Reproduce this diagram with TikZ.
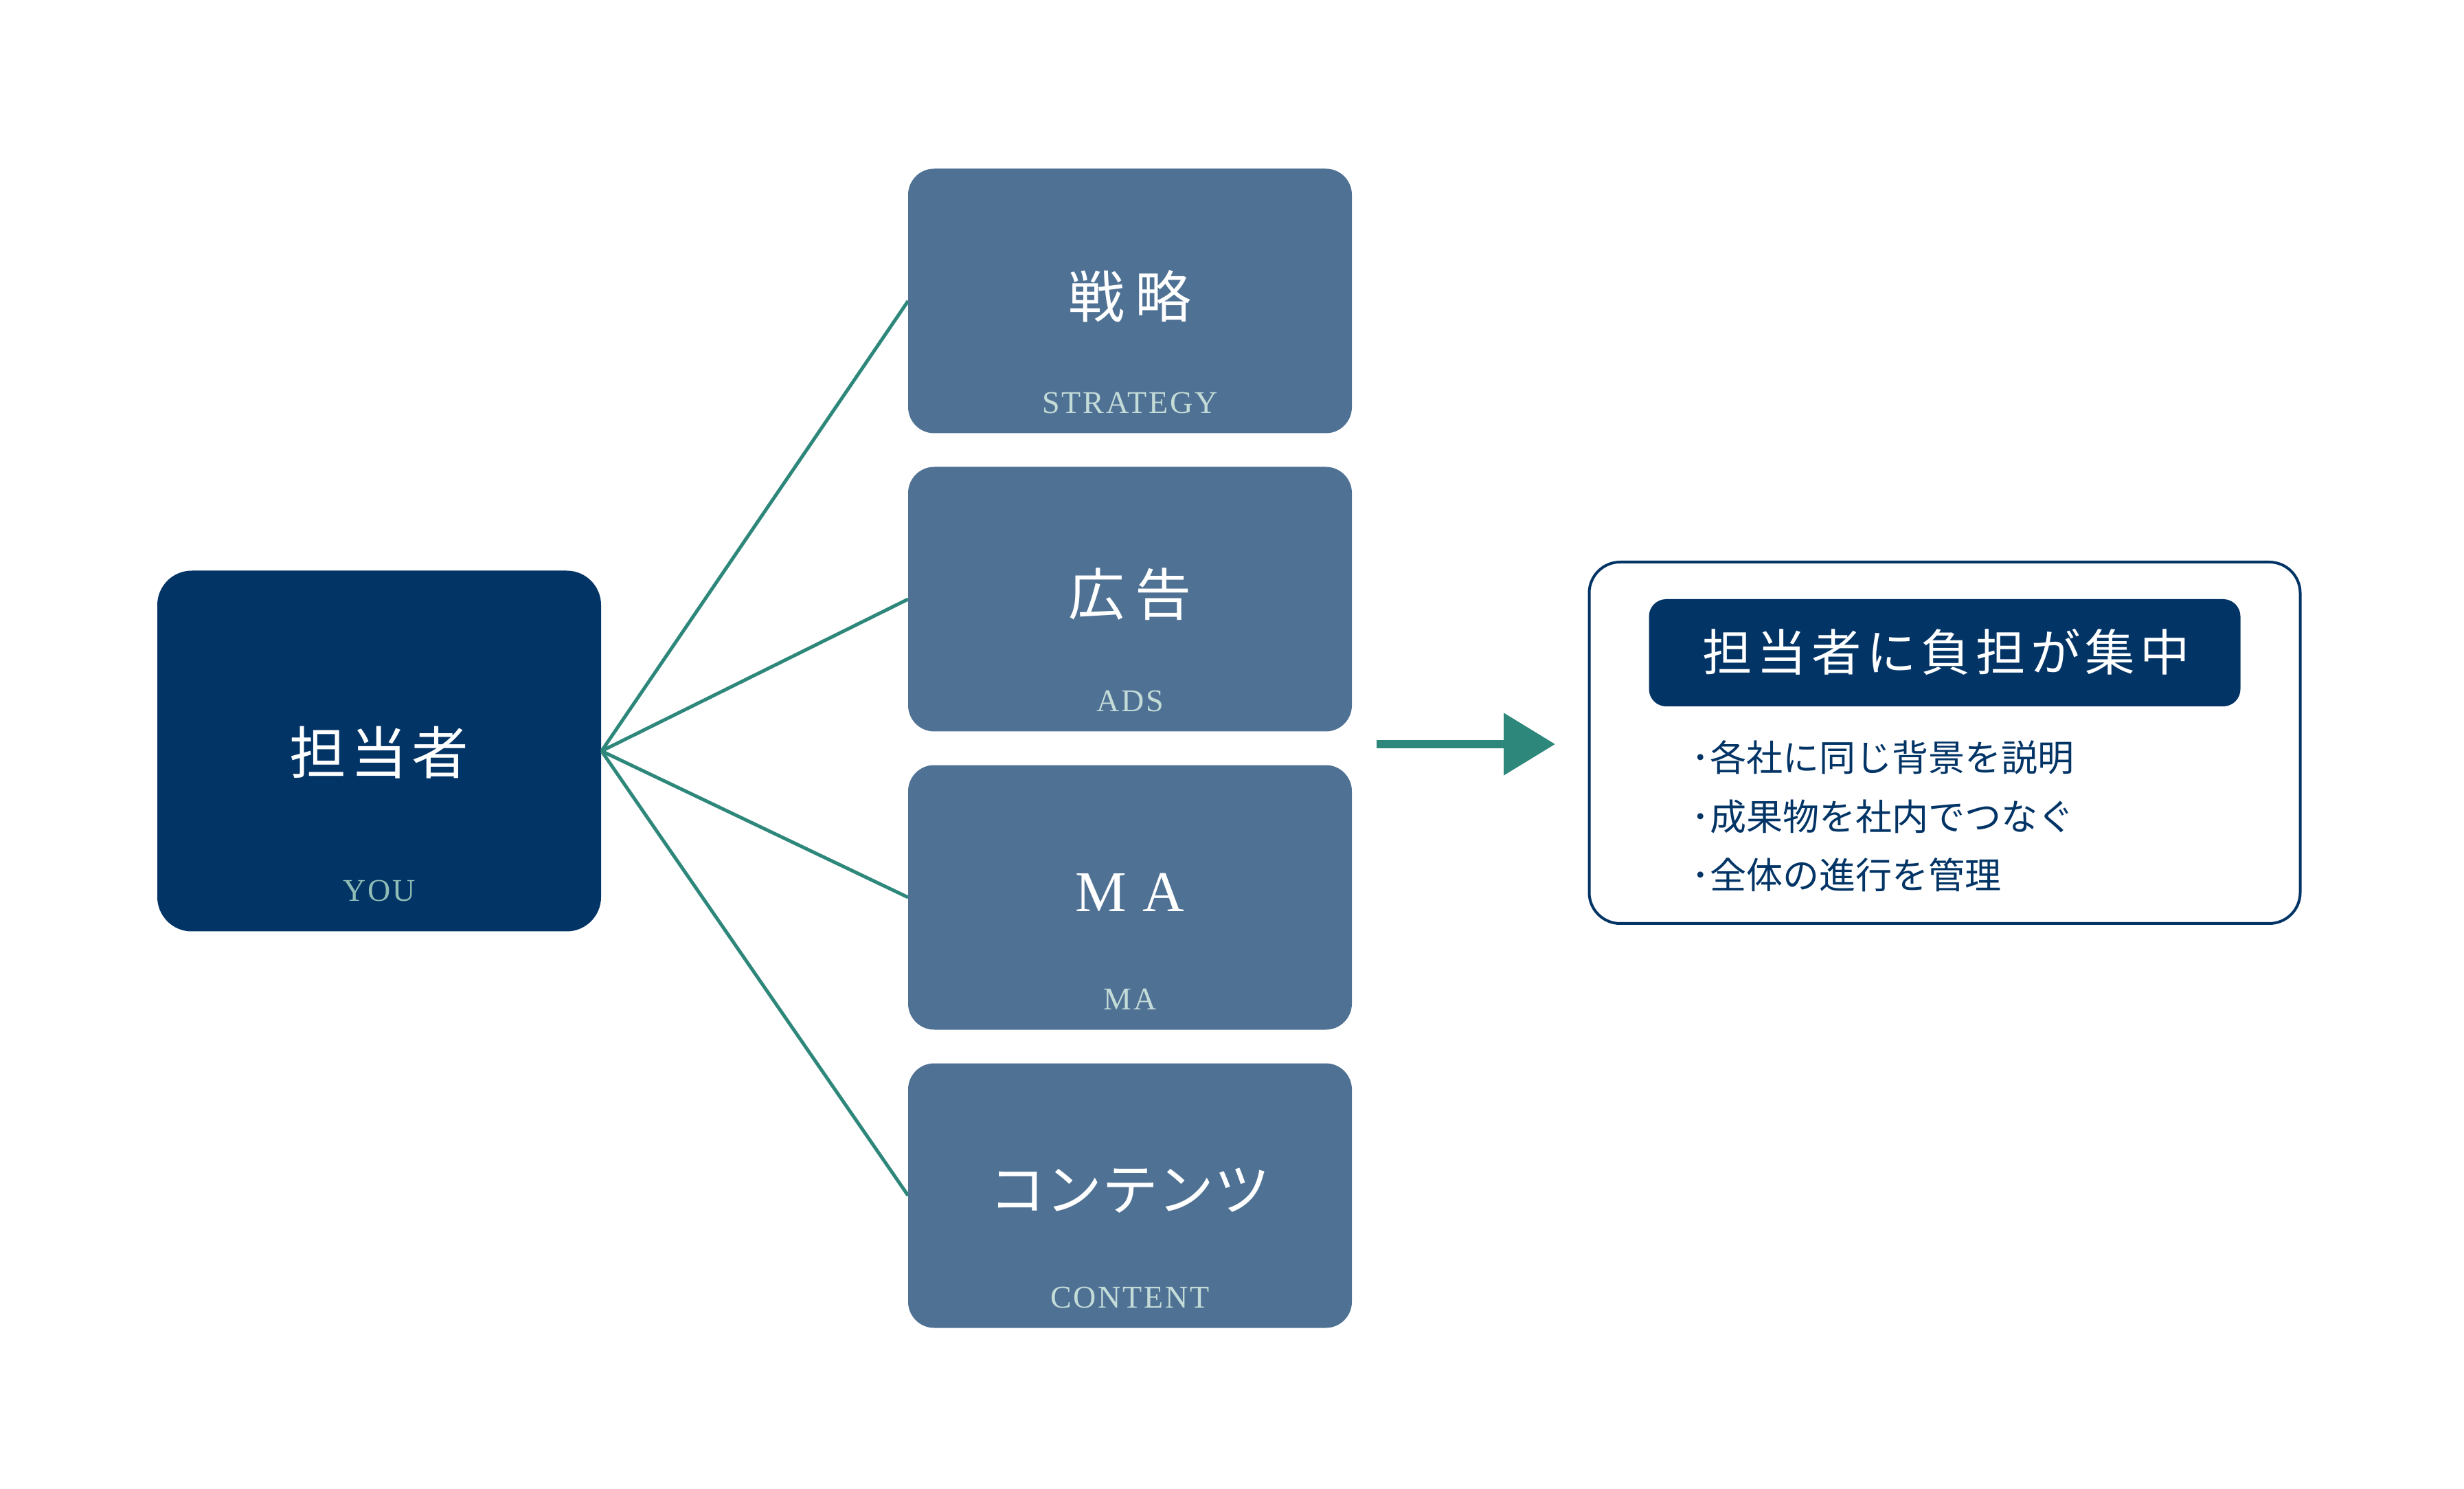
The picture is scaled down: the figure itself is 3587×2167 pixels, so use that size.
\documentclass[tikz,border=0pt]{standalone}
\usepackage{fontspec}
\usepackage{xcolor}
\usepackage{tikz}
\usetikzlibrary{arrows.meta}
\setmainfont{Liberation Serif}
\newfontfamily\jp{Noto Sans CJK JP}
\newfontfamily\jpwide[LetterSpace=18]{Noto Sans CJK JP}
\newfontfamily\jpmid[LetterSpace=8]{Noto Sans CJK JP}
\newfontfamily\jphead[LetterSpace=10]{Noto Sans CJK JP}
\newfontfamily\subserif[LetterSpace=6]{Liberation Serif}

\definecolor{navy}{HTML}{033466}
\definecolor{midblue}{HTML}{4F7194}
\definecolor{teal}{HTML}{2D877A}
\definecolor{subtxt}{HTML}{C4DCD8}
\definecolor{youtxt}{HTML}{8FBDB5}

\begin{document}
\begin{tikzpicture}[x=0.1mm, y=-0.1mm,
  youbox/.style={fill=navy, rounded corners=5mm, minimum width=64.6mm, minimum height=52.5mm, inner sep=0},
  midbox/.style={fill=midblue, rounded corners=3.8mm, minimum width=64.6mm, minimum height=38.5mm, inner sep=0},
  titletxt/.style={text=white, inner sep=0, font=\fontsize{23.3}{28}\selectfont},
  subtitle/.style={text=subtxt, inner sep=0, font=\subserif\fontsize{13.1}{16}\selectfont},
  link/.style={teal, line width=0.5mm},
  flow/.style={teal, line width=1.2mm, -{Triangle[length=7.5mm, width=8.8mm]}},
  bullet/.style={text=navy, inner sep=0, anchor=west, font=\jp\fontsize{15.1}{18}\selectfont}]
 \path[use as bounding box, fill=white] (0,0) rectangle (3587,2167);
 % the one person in charge
 \node[youbox] (you) at (552,1093) {};
 \node[titletxt, font=\jpmid\fontsize{23.5}{28}\selectfont] (you-t) at (552,1095) {担当者};
 \node[subtitle, text=youtxt] (you-s) at (552,1296) {YOU};
 % the four fields
 \foreach \n/\y/\t/\s in {str/438/{\jpwide 戦略}/STRATEGY, ads/872/{\jpwide 広告}/ADS,
   ma/1306/{\rmfamily\fontsize{23.9}{28}\selectfont M\kern.28em A}/MA, cnt/1740/{\jp コンテンツ}/CONTENT} {
   \draw[link] (you.east) -- (1322,\y);
   \node[midbox] (\n) at (1645,\y) {};
   \node[titletxt] (\n-t) at (1645,\y-7) {\t};
   \node[subtitle] (\n-s) at (1645,\y+148) {\s};
 }
 % arrow to the result
 \coordinate (a1) at (2004,1083);
 \coordinate (a2) at (2264,1083);
 \draw[flow] (a1) -- (a2);
 \node[draw=navy, line width=0.4mm, rounded corners=4.5mm, minimum width=103.5mm, minimum height=52.6mm] (rbox) at (2831,1081) {};
 \node[fill=navy, rounded corners=2.5mm, minimum width=86.1mm, minimum height=15.6mm, inner sep=0] (head) at (2831,950) {};
 \node[text=white, inner sep=0, font=\jphead\fontsize{20.6}{24}\selectfont] (head-t) at (2833,949) {担当者に負担が集中};
 \foreach \i/\y/\t in {1/1102/各社に同じ背景を説明, 2/1189/成果物を社内でつなぐ, 3/1273/全体の進行を管理}
   \node[bullet] (b\i) at (2462,\y) {･\t};
\end{tikzpicture}
\end{document}
